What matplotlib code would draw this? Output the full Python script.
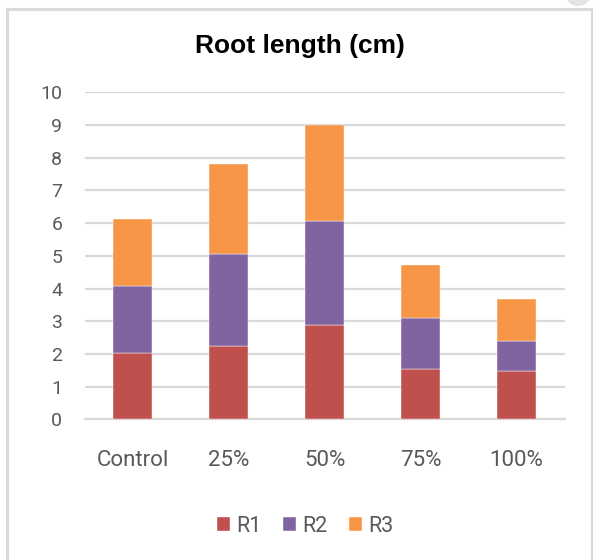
import numpy as np
import matplotlib.pyplot as plt
from matplotlib.patches import Rectangle, Wedge

# Root length (cm) stacked by replicate
categories = ['Control', '25%', '50%', '75%', '100%']
r1 = [2.02, 2.25, 2.89, 1.55, 1.47]
r2 = [2.07, 2.82, 3.18, 1.56, 0.92]
r3 = [2.04, 2.74, 2.93, 1.61, 1.29]
series_names = ['R1', 'R2', 'R3']
colors = ['#C0504D', '#8064A2', '#F79646']

W, H = 593, 560
fig = plt.figure(figsize=(W / 100, H / 100), dpi=100)

# chart frame (bottom edge runs off the picture)
fig.patches.append(Rectangle((6.5 / W, -10 / H), 585.5 / W, (H + 10 - 8.5) / H,
                             transform=fig.transFigure, fill=False,
                             edgecolor='#dadada', lw=2.2))
# little resize handle top right
fig.patches.append(Wedge((578 / W, 1 + 6 / H), 12 / W, 180, 360,
                         transform=fig.transFigure, color='#e4e4e4'))

ax = fig.add_axes([84.5 / W, 140.7 / H, 480 / W, 327 / H])

x = np.arange(len(categories))
bottom = np.zeros(len(categories))
for vals, name, c in zip([r1, r2, r3], series_names, colors):
    ax.bar(x, vals, width=0.4, bottom=bottom, color=c, label=name,
           edgecolor='#ffffff', linewidth=0.3, zorder=3)
    bottom += np.array(vals)

ax.set_xlim(-0.5, 4.5)
ax.set_ylim(0, 10)
ax.set_yticks(range(0, 11))
ax.set_xticks(x)
ax.set_xticklabels(categories)
ax.grid(axis='y', color='#d9d9d9', lw=1.6, zorder=0)
for s in ['top', 'right', 'left']:
    ax.spines[s].set_visible(False)
ax.spines['bottom'].set_color('#d9d9d9')
ax.spines['bottom'].set_linewidth(1.6)
ax.tick_params(length=0, labelcolor='#595959')
ax.tick_params(axis='x', pad=22, labelsize=16)
ax.tick_params(axis='y', pad=16, labelsize=14)
for lab in ax.get_xticklabels() + ax.get_yticklabels():
    lab.set_family('Roboto')

fig.text(300 / W, 1 - 46 / H, 'Root length (cm)', ha='center', va='center',
         fontsize=19, fontweight='bold', family='Liberation Sans')

leg = fig.legend(loc='center', bbox_to_anchor=(305 / W, 1 - 526 / H), ncol=3,
                 frameon=False, handlelength=0.6, handleheight=0.6,
                 handletextpad=0.3, columnspacing=1.0,
                 prop={'family': 'Roboto', 'size': 15.5})
for t in leg.get_texts():
    t.set_color('#595959')

fig.savefig('out.png', dpi=100)
